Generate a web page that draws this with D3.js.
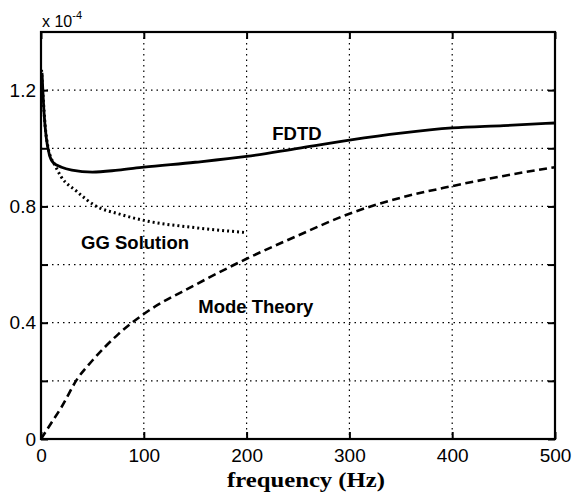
<!DOCTYPE html>
<html><head><meta charset="utf-8">
<script src="https://cdn.jsdelivr.net/npm/d3@7"></script>
<style>body{margin:0;background:#fff}svg{display:block}</style>
</head><body>
<svg id="c" width="574" height="496"></svg>
<script>
const fdtdFreq = [1, 3, 5, 8, 12, 20, 30, 50, 75, 100, 150, 200, 250, 300, 350, 400, 450, 500];
const fdtdVal  = [1.26, 1.12, 1.04, 0.98, 0.95, 0.935, 0.925, 0.918, 0.925, 0.935, 0.952, 0.972, 1.0, 1.028, 1.052, 1.07, 1.078, 1.087];
const ggFreq = [0.5, 2, 4, 7, 10, 13, 20, 34, 54, 75, 100, 150, 200];
const ggVal  = [1.27, 1.18, 1.08, 1.0, 0.965, 0.945, 0.9, 0.854, 0.80, 0.775, 0.752, 0.727, 0.71];
const modeFreq = [0, 10, 20, 35, 50, 75, 100, 150, 200, 250, 300, 350, 400, 450, 500];
const modeVal  = [0, 0.055, 0.11, 0.205, 0.27, 0.36, 0.43, 0.53, 0.62, 0.70, 0.775, 0.83, 0.87, 0.905, 0.935];
const xTicks = [0, 100, 200, 300, 400, 500];
const yTicks = [0, 0.2, 0.4, 0.6, 0.8, 1.0, 1.2];
const yLabelled = [0, 0.4, 0.8, 1.2];
const labels = [
  {text: "FDTD", f: 225, v: 1.03},
  {text: "GG Solution", f: 39, v: 0.655},
  {text: "Mode Theory", f: 153, v: 0.434}
];

const L = 41, R = 555, T = 32, B = 439;
const svg = d3.select("#c");
const x = d3.scaleLinear().domain([0, 500]).range([L, R]);
const y = d3.scaleLinear().domain([0, 1.4]).range([B, T]);

// grid
const g = svg.append("g");
g.selectAll(".gx").data(xTicks.slice(1, -1)).join("line")
  .attr("x1", d => x(d)).attr("x2", d => x(d)).attr("y1", T).attr("y2", B)
  .attr("stroke", "#000").attr("stroke-width", 1.2).attr("stroke-dasharray", "1.5,4");
g.selectAll(".gy").data(yTicks.slice(1)).join("line")
  .attr("x1", L).attr("x2", R).attr("y1", d => y(d)).attr("y2", d => y(d))
  .attr("stroke", "#000").attr("stroke-width", 1.2).attr("stroke-dasharray", "1.5,4");

// axes with inward ticks
const fmt = d => yLabelled.some(v => Math.abs(v - d) < 1e-9) ? (d === 0 ? "0" : d3.format(".1f")(d)) : "";
const axB = svg.append("g").attr("transform", `translate(0,${B})`)
  .call(d3.axisBottom(x).tickValues(xTicks).tickSize(-7).tickPadding(10).tickFormat(d3.format("d")));
const axT = svg.append("g").attr("transform", `translate(0,${T})`)
  .call(d3.axisTop(x).tickValues(xTicks).tickSize(-7).tickFormat(""));
const axL = svg.append("g").attr("transform", `translate(${L},0)`)
  .call(d3.axisLeft(y).tickValues(yTicks).tickSize(-7).tickPadding(5).tickFormat(fmt));
const axR = svg.append("g").attr("transform", `translate(${R},0)`)
  .call(d3.axisRight(y).tickValues(yTicks).tickSize(-7).tickFormat(""));
[axB, axT, axL, axR].forEach(a => {
  a.select(".domain").remove();
  a.selectAll(".tick line").attr("stroke", "#000").attr("stroke-width", 2);
  a.selectAll("text").attr("fill", "#000").style("font-family", "Liberation Sans, Arial, sans-serif").style("font-size", "19px");
});
axB.selectAll("text").attr("dy", "0.71em");
svg.append("rect").attr("x", L).attr("y", T).attr("width", R - L).attr("height", B - T)
  .attr("fill", "none").attr("stroke", "#000").attr("stroke-width", 2.2);

// lines
const line = (fs, vs) => d3.line().curve(d3.curveMonotoneX)
  .x((d, i) => x(fs[i])).y((d, i) => y(vs[i]))(vs);
svg.append("path").attr("d", line(modeFreq, modeVal)).attr("fill", "none")
  .attr("stroke", "#000").attr("stroke-width", 2.6).attr("stroke-dasharray", "8,4.5");
svg.append("path").attr("d", line(ggFreq, ggVal)).attr("fill", "none")
  .attr("stroke", "#000").attr("stroke-width", 3).attr("stroke-dasharray", "2,3");
svg.append("path").attr("d", line(fdtdFreq, fdtdVal)).attr("fill", "none")
  .attr("stroke", "#000").attr("stroke-width", 2.8);

// labels
svg.selectAll(".lab").data(labels).join("text")
  .attr("x", d => x(d.f)).attr("y", d => y(d.v))
  .text(d => d.text)
  .style("font-family", "Liberation Sans, Arial, sans-serif").style("font-weight", "bold").style("font-size", "18.5px");

// exponent
const ex = svg.append("text").attr("x", 42).attr("y", 27)
  .style("font-family", "Liberation Sans, Arial, sans-serif").style("font-size", "16px");
ex.append("tspan").text("x 10");
ex.append("tspan").attr("dy", -8).style("font-size", "11px").text("-4");

// x label
svg.append("text").attr("x", 227).attr("y", 487)
  .attr("textLength", 158).attr("lengthAdjust", "spacingAndGlyphs")
  .style("font-family", "Liberation Serif, Times New Roman, serif").style("font-weight", "bold").style("font-size", "20px")
  .text("frequency (Hz)");
</script>
</body></html>
